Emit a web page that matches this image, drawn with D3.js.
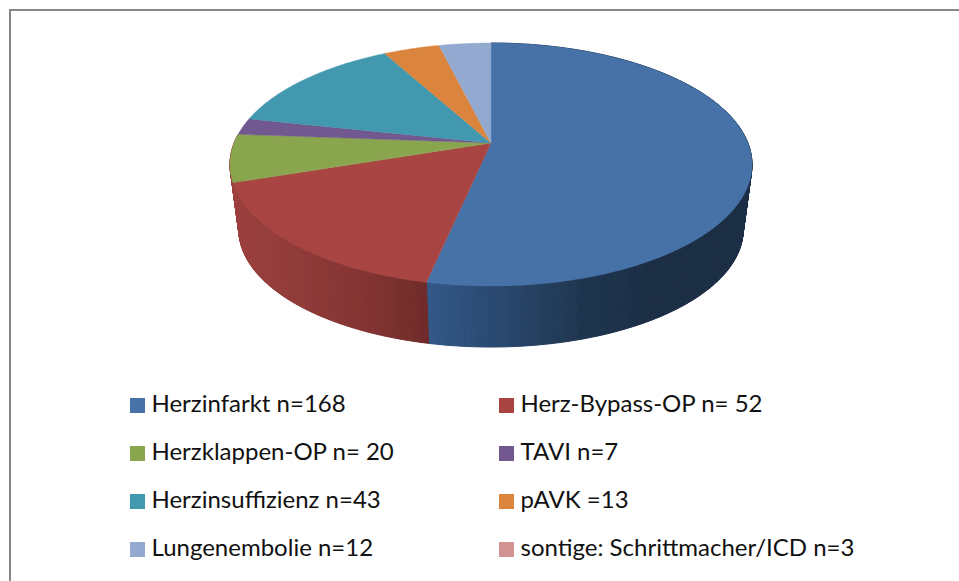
<!DOCTYPE html>
<html>
<head>
<meta charset="utf-8">
<script src="https://cdn.jsdelivr.net/npm/d3@7"></script>
<style>
    html, body { margin: 0; padding: 0; background: #fff; }
    svg { display: block; }
    text { font-family: Lato, "Open Sans", sans-serif; fill: #111; }
</style>
</head>
<body>
<div id="chart"></div>
<script>
let labels = ['Herzinfarkt n=168', 'Herz-Bypass-OP n= 52', 'Herzklappen-OP n= 20', 'TAVI n=7',
    'Herzinsuffizienz n=43', 'pAVK =13', 'Lungenembolie n=12', 'sontige: Schrittmacher/ICD n=3'];
// the last slice has no visible area in the picture, only its legend entry
let values = [168, 52, 20, 7, 43, 13, 12, 0];
let colors = ['#4672a8', '#a84543', '#89a54e', '#71588f', '#4298af', '#db843d', '#93a9cf', '#d19392'];

let width = 959, height = 581;
let svg = d3.select('#chart').append('svg').attr('width', width).attr('height', height);
let defs = svg.append('defs');
defs.append('filter').attr('id', 'soft')
    .append('feGaussianBlur').attr('stdDeviation', 0.5);

// frame: only top and left are visible
svg.append('path')
    .attr('d', 'M10,' + height + 'V10H' + width)
    .attr('fill', 'none')
    .attr('stroke', '#868686')
    .attr('stroke-width', 2);

// perspective of the pie disc
let cx = 491, cy = 143, ax = 256.9, ay = 92.4, persp = 0.177;
let wallScale = 0.966, vanishY = 2080;

function topPoint(angle) {
    let u = Math.sin(angle), v = -Math.cos(angle);
    let w = 1 - persp * v;
    return [cx + ax * u / w, (ay * v + cy) / w];
}
function bottomPoint(angle) {
    let p = topPoint(angle);
    return [cx + wallScale * (p[0] - cx), vanishY + wallScale * (p[1] - vanishY)];
}
function angles(d) {
    let n = Math.max(2, Math.ceil((d.endAngle - d.startAngle) / 0.01));
    return d3.range(n + 1).map(i => d.startAngle + (d.endAngle - d.startAngle) * i / n);
}

let pie = d3.pie().sort(null).value(d => d).startAngle(0).endAngle(2 * Math.PI);
let arcs = pie(values);
let line = d3.line();

let g = svg.append('g').attr('filter', 'url(#soft)');

// wall shading runs along x, stops are [x, colour]
let blueStops = [[428, '#315887'], [480, '#2c4c76'], [580, '#1f3650'], [650, '#1a2d44']];
let redStops = [[232, '#9c3f3d'], [300, '#8f3a38'], [370, '#823331'], [428, '#6f2b29']];

function wallGradient(id, stops) {
    let x0 = stops[0][0], x1 = stops[stops.length - 1][0];
    let grad = defs.append('linearGradient')
        .attr('id', id)
        .attr('gradientUnits', 'userSpaceOnUse')
        .attr('x1', x0).attr('x2', x1)
        .attr('y1', 0).attr('y2', 0);
    stops.forEach(function (s) {
        grad.append('stop')
            .attr('offset', (s[0] - x0) / (x1 - x0))
            .attr('stop-color', s[1]);
    });
    return 'url(#' + id + ')';
}

// side wall as small quads, the visible part is only blue and red
let wallArcs = [
    {startAngle: arcs[0].startAngle, endAngle: arcs[0].endAngle, fill: wallGradient('wallBlue', blueStops)},
    {startAngle: arcs[1].startAngle, endAngle: arcs[2].endAngle, fill: wallGradient('wallRed', redStops)}
];
wallArcs.forEach(function (d) {
    g.append('g').selectAll('path')
        .data(d3.pairs(angles(d)))
        .enter()
        .append('path')
        .attr('d', q => line([topPoint(q[0]), topPoint(q[1]), bottomPoint(q[1]), bottomPoint(q[0])]) + 'Z')
        .attr('fill', d.fill)
        .attr('stroke', d.fill)
        .attr('stroke-width', 1);
});

// top face
g.selectAll('path.slice')
    .data(arcs.filter(d => d.value > 0))
    .enter()
    .append('path')
    .attr('class', 'slice')
    .attr('d', d => line([[cx, cy]].concat(angles(d).map(topPoint))) + 'Z')
    .attr('fill', d => colors[d.index])
    .attr('stroke', d => colors[d.index])
    .attr('stroke-width', 0.4);

// legend: two columns, four rows
let col = d3.scalePoint().domain([0, 1]).range([130, 499]);
let row = d3.scalePoint().domain([0, 1, 2, 3]).range([398, 542]);
let legend = svg.selectAll('g.legend')
    .data(labels)
    .enter()
    .append('g')
    .attr('class', 'legend')
    .attr('transform', (d, i) => 'translate(' + col(i % 2) + ',' + row(Math.floor(i / 2)) + ')');
legend.append('rect')
    .attr('width', 15)
    .attr('height', 15)
    .attr('fill', (d, i) => colors[i]);
legend.append('text')
    .attr('x', 21.5)
    .attr('y', 14)
    .attr('font-size', 24)
    .text(d => d);
</script>
</body>
</html>
